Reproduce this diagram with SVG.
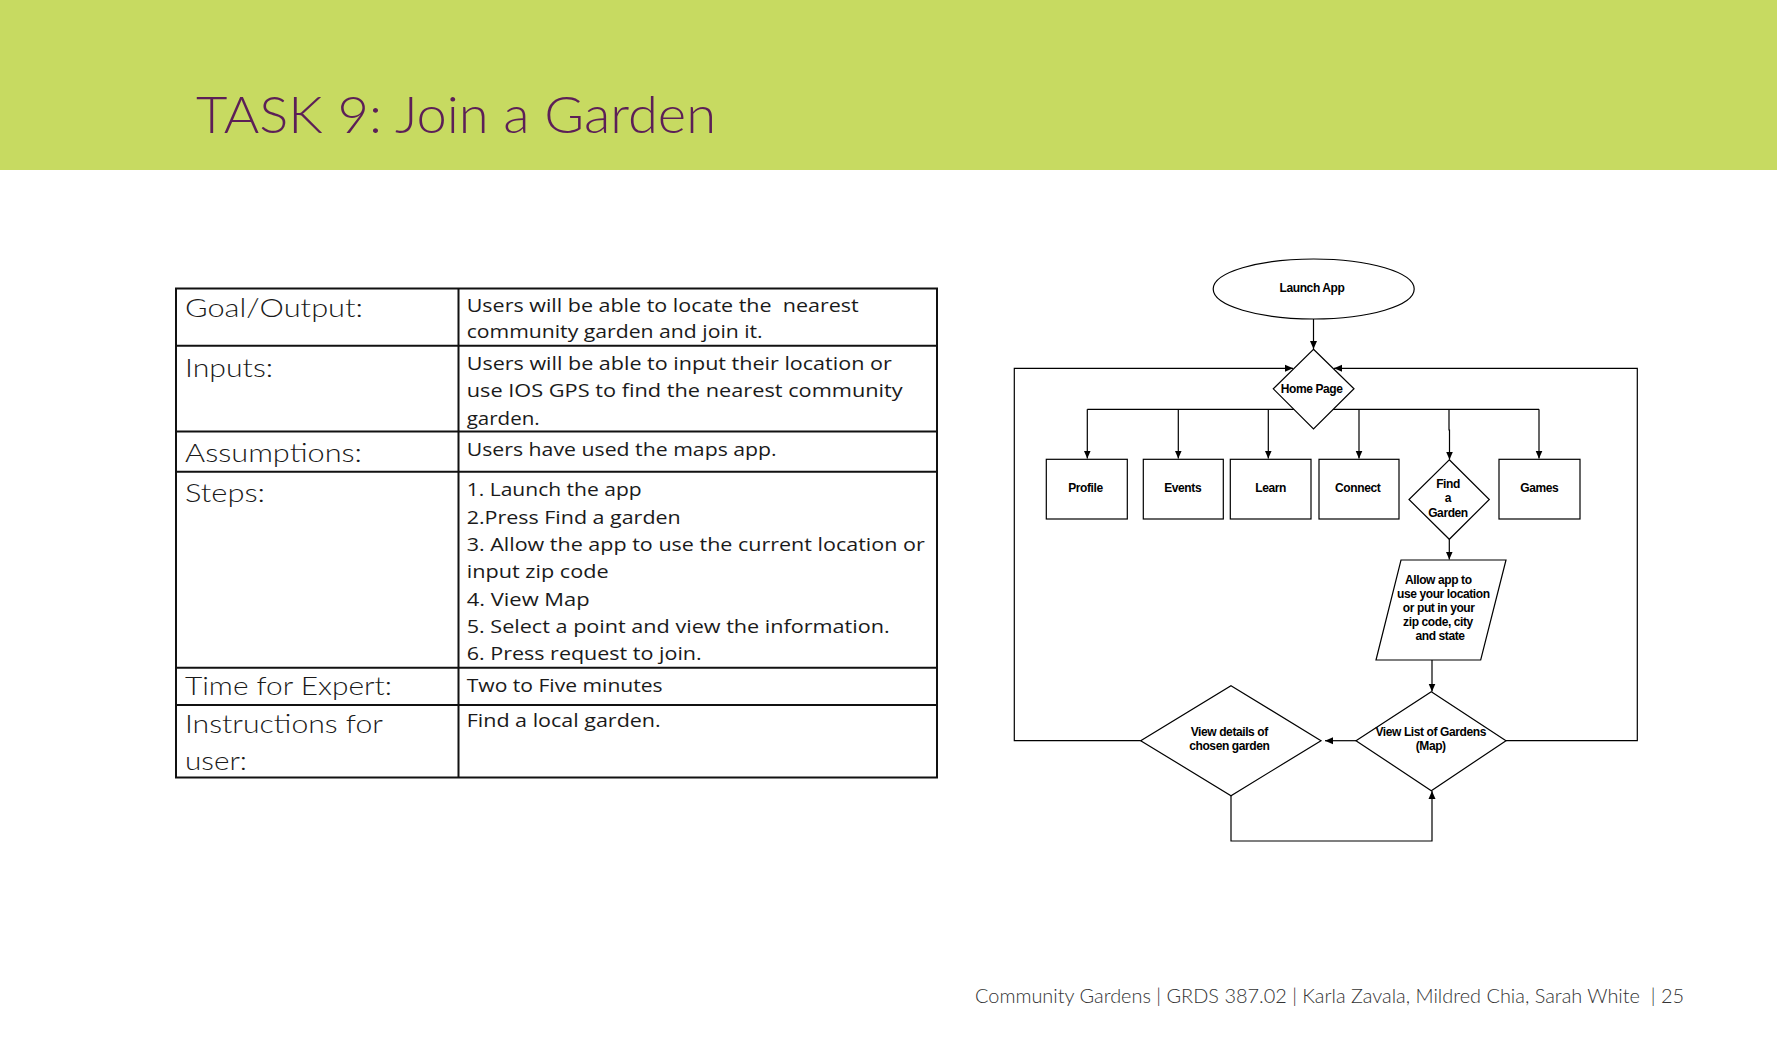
<svg xmlns="http://www.w3.org/2000/svg" width="1777" height="1062" viewBox="0 0 1777 1062">
<style>
.title{font-family:Lato,"Open Sans",sans-serif;font-weight:300;font-size:51px;fill:#5c1f57}
.lbl{font-family:Lato,"Open Sans",sans-serif;font-weight:300;font-size:25px;fill:#1a1a1a}
.cell{font-family:"Open Sans",Lato,sans-serif;font-weight:400;font-size:18.6px;fill:#1a1a1a}
.foot{font-family:Lato,"Open Sans",sans-serif;font-weight:300;font-size:19px;fill:#333}
.tl{stroke:#111;stroke-width:2;fill:none}
.shape{fill:#fff;stroke:#000;stroke-width:1.2}
.fc{font-family:"Liberation Sans",Arial,sans-serif;font-weight:bold;font-size:12px;fill:#000;text-anchor:middle;letter-spacing:-0.4px}
.conn{stroke:#000;stroke-width:1.2;fill:none}
.arr{marker-end:url(#ah)}
</style>
<defs>
<marker id="ah" markerWidth="8" markerHeight="8" viewBox="0 0 8 8" refX="8" refY="4" orient="auto" markerUnits="userSpaceOnUse">
<path d="M0,0.5 L8,4 L0,7.5 Z" fill="#000"/>
</marker>
</defs>
<rect x="0" y="0" width="1777" height="1062" fill="#fff"/>
<rect x="0" y="0" width="1777" height="170" fill="#c7da61"/>
<text class="title" x="196" y="133" textLength="520" lengthAdjust="spacingAndGlyphs">TASK 9: Join a Garden</text>

<g id="table">
<rect class="tl" x="176" y="288.5" width="761" height="489"/>
<line class="tl" x1="458.5" y1="288.5" x2="458.5" y2="777.5"/>
<line class="tl" x1="176" y1="345.7" x2="937" y2="345.7"/>
<line class="tl" x1="176" y1="431.5" x2="937" y2="431.5"/>
<line class="tl" x1="176" y1="471.7" x2="937" y2="471.7"/>
<line class="tl" x1="176" y1="667.7" x2="937" y2="667.7"/>
<line class="tl" x1="176" y1="705" x2="937" y2="705"/>
<text class="lbl" x="185" y="316.7" textLength="178" lengthAdjust="spacingAndGlyphs">Goal/Output:</text>
<text class="lbl" x="185" y="376.7" textLength="88" lengthAdjust="spacingAndGlyphs">Inputs:</text>
<text class="lbl" x="185" y="461.7" textLength="177" lengthAdjust="spacingAndGlyphs">Assumptions:</text>
<text class="lbl" x="185" y="501.7" textLength="80" lengthAdjust="spacingAndGlyphs">Steps:</text>
<text class="lbl" x="185" y="695" textLength="207" lengthAdjust="spacingAndGlyphs">Time for Expert:</text>
<text class="lbl" x="185" y="733.3" textLength="198" lengthAdjust="spacingAndGlyphs">Instructions for</text>
<text class="lbl" x="185" y="770" textLength="62" lengthAdjust="spacingAndGlyphs">user:</text>
<text class="cell" x="466.7" y="312.3" textLength="392" lengthAdjust="spacingAndGlyphs" xml:space="preserve">Users will be able to locate the  nearest</text>
<text class="cell" x="466.7" y="338.3" textLength="296" lengthAdjust="spacingAndGlyphs">community garden and join it.</text>
<text class="cell" x="466.7" y="370" textLength="425" lengthAdjust="spacingAndGlyphs">Users will be able to input their location or</text>
<text class="cell" x="466.7" y="397.3" textLength="436" lengthAdjust="spacingAndGlyphs">use IOS GPS to find the nearest community</text>
<text class="cell" x="466.7" y="425" textLength="73" lengthAdjust="spacingAndGlyphs">garden.</text>
<text class="cell" x="466.7" y="455.7" textLength="310" lengthAdjust="spacingAndGlyphs">Users have used the maps app.</text>
<text class="cell" x="466.7" y="496" textLength="175" lengthAdjust="spacingAndGlyphs">1. Launch the app</text>
<text class="cell" x="466.7" y="523.5" textLength="214" lengthAdjust="spacingAndGlyphs">2.Press Find a garden</text>
<text class="cell" x="466.7" y="550.8" textLength="458" lengthAdjust="spacingAndGlyphs">3. Allow the app to use the current location or</text>
<text class="cell" x="466.7" y="578.2" textLength="142" lengthAdjust="spacingAndGlyphs">input zip code</text>
<text class="cell" x="466.7" y="605.5" textLength="123" lengthAdjust="spacingAndGlyphs">4. View Map</text>
<text class="cell" x="466.7" y="632.8" textLength="423" lengthAdjust="spacingAndGlyphs">5. Select a point and view the information.</text>
<text class="cell" x="466.7" y="660" textLength="235" lengthAdjust="spacingAndGlyphs">6. Press request to join.</text>
<text class="cell" x="466.7" y="691.7" textLength="196" lengthAdjust="spacingAndGlyphs">Two to Five minutes</text>
<text class="cell" x="466.7" y="727.3" textLength="194" lengthAdjust="spacingAndGlyphs">Find a local garden.</text>
</g>

<g id="connectors">
<line class="conn arr" x1="1313.5" y1="319" x2="1313.5" y2="349"/>
<line class="conn" x1="1087.3" y1="409.3" x2="1539" y2="409.3"/>
<line class="conn arr" x1="1087.3" y1="409.3" x2="1087.3" y2="458.5"/>
<line class="conn arr" x1="1178.3" y1="409.3" x2="1178.3" y2="458.5"/>
<line class="conn arr" x1="1268.3" y1="409.3" x2="1268.3" y2="458.5"/>
<line class="conn arr" x1="1359" y1="409.3" x2="1359" y2="458.5"/>
<polyline class="conn arr" points="1449,409.3 1449,430 1449.5,430 1449.5,459.5"/>
<line class="conn arr" x1="1539" y1="409.3" x2="1539" y2="458.5"/>
<line class="conn arr" x1="1449.3" y1="539.3" x2="1449.3" y2="559.5"/>
<line class="conn arr" x1="1432" y1="660" x2="1432" y2="691.5"/>
<line class="conn arr" x1="1356" y1="740.7" x2="1325" y2="740.7"/>
<polyline class="conn arr" points="1231,795.7 1231,841 1432,841 1432,791"/>
<polyline class="conn arr" points="1140.7,740.7 1014.3,740.7 1014.3,368.3 1293,368.3"/>
<polyline class="conn arr" points="1506,740.7 1637.3,740.7 1637.3,368.3 1334,368.3"/>
</g>

<g id="launch">
<ellipse class="shape" cx="1313.7" cy="289" rx="100.5" ry="30"/>
<text class="fc" x="1312" y="291.5">Launch App</text>
</g>
<g id="home">
<polygon class="shape" points="1313.5,349.3 1354,388.8 1313.5,429 1273.3,388.8"/>
<text class="fc" x="1311.7" y="392.7">Home Page</text>
</g>
<g id="profile">
<rect class="shape" x="1046.3" y="459.3" width="81" height="59.7"/>
<text class="fc" x="1085.5" y="492.3">Profile</text>
</g>
<g id="events">
<rect class="shape" x="1143.3" y="459.3" width="80" height="59.7"/>
<text class="fc" x="1182.7" y="492.3">Events</text>
</g>
<g id="learn">
<rect class="shape" x="1230.3" y="459.3" width="80.7" height="59.7"/>
<text class="fc" x="1270.7" y="492.3">Learn</text>
</g>
<g id="connect">
<rect class="shape" x="1319" y="459.3" width="80" height="59.7"/>
<text class="fc" x="1357.7" y="492.3">Connect</text>
</g>
<g id="find">
<polygon class="shape" points="1449.3,459.8 1489.3,499.5 1449.3,539.3 1409,499.5"/>
<text class="fc" x="1448" y="488.3">Find</text>
<text class="fc" x="1448" y="502.3">a</text>
<text class="fc" x="1448" y="516.5">Garden</text>
</g>
<g id="games">
<rect class="shape" x="1499" y="459.3" width="81" height="59.7"/>
<text class="fc" x="1539.3" y="492.3">Games</text>
</g>
<g id="allow">
<polygon class="shape" points="1401,560 1506,560 1480.7,660 1376,660"/>
<text class="fc" x="1438.3" y="584.3">Allow app to</text>
<text class="fc" x="1443.3" y="598.3">use your location</text>
<text class="fc" x="1438.7" y="612.3">or put in your</text>
<text class="fc" x="1438" y="626.3">zip code, city</text>
<text class="fc" x="1440" y="640.3">and state</text>
</g>
<g id="viewlist">
<polygon class="shape" points="1431.3,691.7 1506,740.7 1431.3,790.7 1356,740.7"/>
<text class="fc" x="1430.7" y="735.7">View List of Gardens</text>
<text class="fc" x="1430.7" y="750">(Map)</text>
</g>
<g id="viewdetails">
<polygon class="shape" points="1231,685.7 1321,740.7 1231,795.7 1140.7,740.7"/>
<text class="fc" x="1229.3" y="735.7">View details of</text>
<text class="fc" x="1229.3" y="750">chosen garden</text>
</g>

<text class="foot" x="975" y="1003" textLength="709" lengthAdjust="spacingAndGlyphs" xml:space="preserve">Community Gardens | GRDS 387.02 | Karla Zavala, Mildred Chia, Sarah White  | 25</text>
</svg>
